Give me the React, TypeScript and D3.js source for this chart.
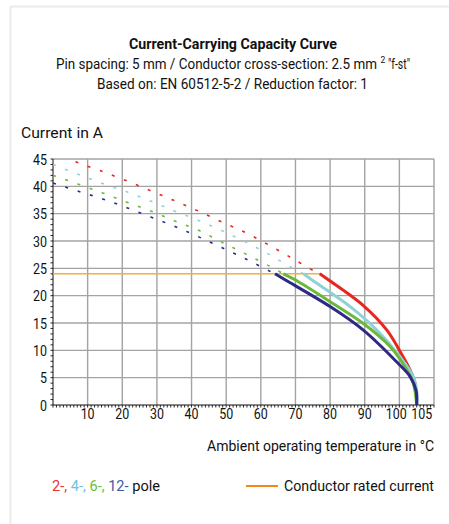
import React from "react";
import * as d3 from "d3";

const W = 449;
const H = 524;

const xTicks = [10, 20, 30, 40, 50, 60, 70, 80, 90, 100, 105];
const xGrid = [10, 20, 30, 40, 50, 60, 70, 80, 90, 100, 110];
const yTicks = [0, 5, 10, 15, 20, 25, 30, 35, 40, 45];

const seriesNames = ["2-pole", "4-pole", "6-pole", "12-pole"];
const seriesColors = ["#e8261f", "#8ed2d6", "#6cb83a", "#2d2a86"];
const legendColors = ["#e8323a", "#6ec4dc", "#6cbc3c", "#3a5aa6"];

// dashed (extrapolated) portions, above rated current
const dashed2 = [[6.5, 44.5], [7.3, 44.3], [14.3, 42.7], [21.3, 41.0], [28.2, 39.2], [35, 37.4], [41.9, 35.5], [48.7, 33.5], [55.7, 31.5], [62.5, 29.2], [68.9, 26.9], [75.4, 24.5], [77, 24]];
const dashed4 = [[0, 44.0], [7.3, 42.2], [14.3, 40.5], [21.3, 39.0], [28.2, 37.3], [35, 35.5], [41.9, 33.8], [48.7, 31.9], [55.7, 29.8], [62.5, 27.5], [69, 25.1], [72.3, 24]];
const dashed6 = [[0, 42.0], [7.3, 40.4], [14.3, 38.8], [21.3, 37.1], [28.2, 35.5], [35, 33.7], [41.9, 32.0], [48.7, 29.8], [55.7, 27.6], [62.5, 25.4], [66.5, 24]];
const dashed12 = [[0, 40.6], [7.3, 39.1], [14.3, 37.7], [21.3, 36.1], [28.2, 34.4], [35, 32.7], [41.9, 30.8], [48.7, 28.8], [55.7, 26.7], [62.2, 24.6], [64.1, 24]];

// solid portions, below rated current
const solid2 = [[77, 24], [79.5, 22.9], [89.6, 18.2], [96.4, 13.7], [100.2, 9.8], [103.1, 6.4], [104.5, 4.0], [105, 0]];
const solid4 = [[72.3, 24], [74.7, 22.9], [85.8, 18.0], [93.5, 13.7], [100.2, 8.8], [104, 5.2], [105.1, 2.1], [105, 0]];
const solid6 = [[66.5, 24], [69.9, 22.9], [80, 18.9], [89.6, 14.9], [97.3, 10.7], [101.6, 7.0], [104, 4.0], [105, 0]];
const solid12 = [[64.1, 24], [67, 22.9], [80, 18.0], [89.6, 13.7], [99.2, 7.9], [103.1, 5.2], [104.8, 2.7], [105, 0]];

const dashedSeries = [dashed2, dashed4, dashed6, dashed12];
const solidSeries = [solid2, solid4, solid6, solid12];

const ratedCurrent = 24;
const ratedCurrentEnd = 77.5;

const title = "Current-Carrying Capacity Curve";
const subtitle1 = "Pin spacing: 5 mm / Conductor cross-section: 2.5 mm";
const subtitle1b = "2";
const subtitle1c = "\"f-st\"";
const subtitle2 = "Based on: EN 60512-5-2 / Reduction factor: 1";
const yLabel = "Current in A";
const xLabel = "Ambient operating temperature in °C";
const legendPoles = ["2-,", " 4-,", " 6-,", " 12-"];
const legendRated = "Conductor rated current";

const FONT = "Roboto, 'Liberation Sans', sans-serif";

export default function App() {
  const x = d3.scaleLinear().domain([0, 110]).range([53, 434]);
  const y = d3.scaleLinear().domain([0, 45]).range([405, 159]);

  const line = d3
    .line<number[]>()
    .x((d) => x(d[0]))
    .y((d) => y(d[1]))
    .curve(d3.curveCatmullRom.alpha(0.5));

  const minorX = d3.range(0, 111, 1);
  const minorY = d3.range(0, 46, 1);

  const tickLen = (v: number) => String(v).length * 7;

  return (
    <svg
      width={W}
      height={H}
      style={{ position: "absolute", left: 0, top: 0, background: "#fff" }}
      fontFamily={FONT}
    >
      {/* frame */}
      <line x1={10.5} y1={6} x2={10.5} y2={H} stroke="#ecebe6" strokeWidth={2} />
      <line x1={10} y1={6.5} x2={W} y2={6.5} stroke="#ecebe6" strokeWidth={2} />

      {/* titles */}
      <text x={233} y={49} textAnchor="middle" fontWeight="bold" fontSize={14.5} fill="#111" textLength={208} lengthAdjust="spacingAndGlyphs">
        {title}
      </text>
      <text x={56} y={69} fontSize={14.5} fill="#111">
        <tspan textLength={321} lengthAdjust="spacingAndGlyphs">{subtitle1}</tspan>
        <tspan x={380.5} dy={-6} fontSize={8.5}>{subtitle1b}</tspan>
        <tspan x={388} dy={6} textLength={22} lengthAdjust="spacingAndGlyphs">{subtitle1c}</tspan>
      </text>
      <text x={232.5} y={89} textAnchor="middle" fontSize={14.5} fill="#111" textLength={271} lengthAdjust="spacingAndGlyphs">
        {subtitle2}
      </text>

      <text x={21} y={138} fontSize={14.5} fill="#111" textLength={82} lengthAdjust="spacingAndGlyphs">
        {yLabel}
      </text>

      {/* grid */}
      {xGrid.map((v) => (
        <line key={"gx" + v} x1={x(v)} x2={x(v)} y1={y(0)} y2={y(45)} stroke="#a3a3a3" strokeWidth={1.4} />
      ))}
      {yTicks.filter((v) => v > 0).map((v) => (
        <line key={"gy" + v} x1={x(0)} x2={x(110)} y1={y(v)} y2={y(v)} stroke="#a3a3a3" strokeWidth={1.4} />
      ))}

      {/* axes */}
      <line x1={x(0)} x2={x(0)} y1={y(0)} y2={y(45)} stroke="#111" strokeWidth={1} />
      <line x1={x(0)} x2={x(110)} y1={y(0)} y2={y(0)} stroke="#111" strokeWidth={1} />
      {minorY.map((v) => (
        <line key={"my" + v} x1={x(0) - 2.5} x2={x(0)} y1={y(v)} y2={y(v)} stroke="#111" strokeWidth={0.9} />
      ))}
      {minorX.map((v) => (
        <line key={"mx" + v} x1={x(v)} x2={x(v)} y1={y(0)} y2={y(0) + 2.5} stroke="#111" strokeWidth={0.9} />
      ))}

      {/* tick labels */}
      {yTicks.map((v) => (
        <text key={"ty" + v} x={47} y={y(v) + 5.5} textAnchor="end" fontSize={15.5} fill="#111" textLength={tickLen(v)} lengthAdjust="spacingAndGlyphs">
          {v}
        </text>
      ))}
      {xTicks.map((v) => (
        <text key={"tx" + v} x={x(v) + (v === 105 ? 5 : v === 100 ? -3 : 0)} y={419} textAnchor="middle" fontSize={15.5} fill="#111" textLength={tickLen(v)} lengthAdjust="spacingAndGlyphs">
          {v}
        </text>
      ))}

      {/* rated current */}
      <line x1={x(0)} x2={x(ratedCurrentEnd)} y1={y(ratedCurrent)} y2={y(ratedCurrent)} stroke="#f6ae3c" strokeWidth={1.6} />

      {/* curves */}
      {dashedSeries.map((s, i) => (
        <path key={"d" + i} d={line(s) || ""} fill="none" stroke={seriesColors[i]} strokeWidth={1.6} strokeDasharray="3 9.9" />
      ))}
      {solidSeries.map((s, i) => (
        <path key={"s" + i} d={line(s) || ""} fill="none" stroke={seriesColors[i]} strokeWidth={3} strokeLinecap="butt" />
      ))}

      <text x={434} y={451} textAnchor="end" fontSize={14.5} fill="#111" textLength={227} lengthAdjust="spacingAndGlyphs">
        {xLabel}
      </text>

      {/* legend */}
      <text x={52} y={491} fontSize={14.5} fill="#111" textLength={108} lengthAdjust="spacingAndGlyphs">
        {legendPoles.map((t, i) => (
          <tspan key={"lp" + i} fill={legendColors[i]}>{t}</tspan>
        ))}
        <tspan fill="#111"> pole</tspan>
      </text>
      <line x1={246} x2={278} y1={486} y2={486} stroke="#f0881c" strokeWidth={2} />
      <text x={284} y={491} fontSize={14.5} fill="#111" textLength={150} lengthAdjust="spacingAndGlyphs">
        {legendRated}
      </text>
    </svg>
  );
}
